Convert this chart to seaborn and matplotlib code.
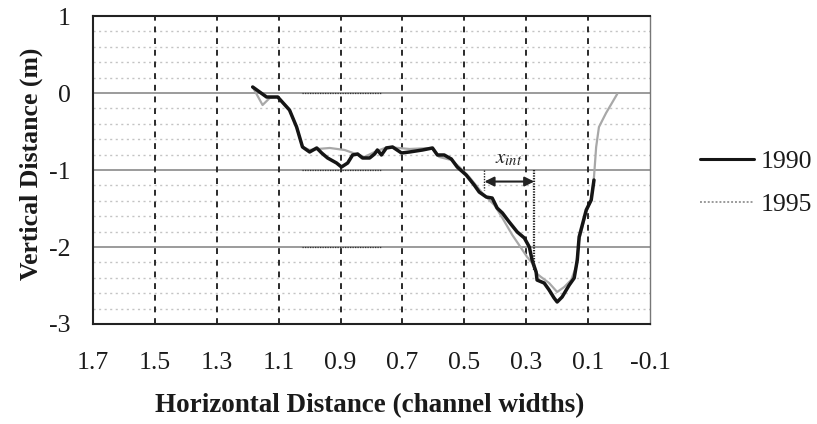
import matplotlib
matplotlib.use("Agg")
import matplotlib.pyplot as plt
from matplotlib.lines import Line2D
import seaborn as sns
import pandas as pd
import numpy as np

# ---- data ----
x_1990 = [1.184, 1.139, 1.103, 1.065, 1.042, 1.023, 1.000, 0.977, 0.961, 0.942,
          0.913, 0.897, 0.877, 0.861, 0.845, 0.829, 0.806, 0.790, 0.781, 0.768,
          0.752, 0.732, 0.703, 0.677, 0.635, 0.603, 0.587, 0.565, 0.542, 0.523,
          0.494, 0.468, 0.452, 0.429, 0.410, 0.394, 0.377, 0.355, 0.329, 0.306,
          0.290, 0.281, 0.268, 0.265, 0.242, 0.226, 0.210, 0.200, 0.184, 0.161,
          0.145, 0.135, 0.129, 0.106, 0.090, 0.081]
y_1990 = [0.078, -0.052, -0.052, -0.221, -0.442, -0.701, -0.766, -0.714, -0.779, -0.844,
          -0.909, -0.961, -0.909, -0.805, -0.792, -0.844, -0.844, -0.792, -0.740, -0.805,
          -0.714, -0.701, -0.779, -0.766, -0.740, -0.714, -0.805, -0.805, -0.857, -0.961,
          -1.065, -1.195, -1.286, -1.351, -1.364, -1.494, -1.558, -1.675, -1.805, -1.883,
          -2.000, -2.169, -2.325, -2.429, -2.468, -2.558, -2.662, -2.714, -2.649, -2.494,
          -2.403, -2.169, -1.870, -1.519, -1.390, -1.130]

x_1995 = [1.184, 1.152, 1.129, 1.103, 1.065, 1.042, 1.023, 1.000, 0.974, 0.935,
          0.887, 0.823, 0.790, 0.748, 0.677, 0.606, 0.581, 0.542, 0.516, 0.484,
          0.442, 0.403, 0.377, 0.345, 0.323, 0.297, 0.281, 0.268, 0.252, 0.226,
          0.200, 0.177, 0.155, 0.139, 0.129, 0.106, 0.090, 0.081, 0.074, 0.065,
          0.042, 0.006]
y_1995 = [0.078, -0.156, -0.065, -0.052, -0.221, -0.442, -0.701, -0.740, -0.727, -0.714,
          -0.740, -0.831, -0.766, -0.701, -0.727, -0.714, -0.831, -0.870, -0.961, -1.091,
          -1.299, -1.455, -1.623, -1.844, -1.974, -2.130, -2.208, -2.338, -2.390, -2.468,
          -2.584, -2.519, -2.429, -2.260, -1.909, -1.545, -1.390, -1.091, -0.701, -0.442,
          -0.260, -0.013]

years = ["1990", "1995"]
x_ticks = [1.7, 1.5, 1.3, 1.1, 0.9, 0.7, 0.5, 0.3, 0.1, -0.1]
x_tick_labels = ["1.7", "1.5", "1.3", "1.1", "0.9", "0.7", "0.5", "0.3", "0.1", "-0.1"]
y_ticks = [1, 0, -1, -2, -3]
y_tick_labels = ["1", "0", "-1", "-2", "-3"]

# x_int annotation (channel widths / m)
xint_left = 0.435
xint_right = 0.274
xint_arrow_y = -1.15
xint_top = -1.0
xint_left_bottom = -1.26
xint_right_bottom = -2.30
# dotted box segments seen in the original
box_x = [1.023, 0.768]
box_levels = [0, -1, -2]

df = pd.DataFrame({
    "x": x_1990 + x_1995,
    "y": y_1990 + y_1995,
    "year": [years[0]] * len(x_1990) + [years[1]] * len(x_1995),
})

sns.set_theme(style="white")
plt.rcParams["font.family"] = ["Liberation Serif", "DejaVu Serif"]
plt.rcParams["mathtext.fontset"] = "stix"

fig = plt.figure(figsize=(8.17, 4.24), dpi=100)
ax = fig.add_axes([93 / 817, 1 - 324 / 424, (650 - 93) / 817, (324 - 16) / 424])

# grid
for yv in np.arange(-3, 1.01, 0.2):
    if abs(yv - round(yv)) > 1e-6:
        ax.axhline(yv, color="#c4c4c4", lw=1.0, ls=(0, (1.5, 2.5)), zorder=0)
for yv in [0, -1, -2]:
    ax.axhline(yv, color="#8a8a8a", lw=1.2, zorder=0.5)
for xv in x_ticks[1:-1]:
    ax.axvline(xv, color="#2a2a2a", lw=1.4, ls=(0, (3, 3)), zorder=0.6)

for yv in box_levels:
    ax.plot(box_x, [yv, yv], color="#333333", lw=0.9, ls=(0, (1, 1)), zorder=0.7)

palette = {"1990": "#151515", "1995": "#a8a8a8"}
sizes = {"1990": 2.5, "1995": 1.6}
sns.lineplot(data=df[df.year == "1995"], x="x", y="y", sort=False, estimator=None,
             color=palette["1995"], lw=sizes["1995"], ax=ax, zorder=3, legend=False)
sns.lineplot(data=df[df.year == "1990"], x="x", y="y", sort=False, estimator=None,
             color=palette["1990"], lw=sizes["1990"], ax=ax, zorder=4, legend=False)

# x_int annotation
ax.plot([xint_left, xint_left], [xint_top, xint_left_bottom], color="#222222",
        lw=1.0, ls=(0, (1, 1)), zorder=5)
ax.plot([xint_right, xint_right], [xint_top, xint_right_bottom], color="#222222",
        lw=1.6, ls=(0, (0.6, 0.6)), zorder=5)
ax.annotate("", xy=(xint_left, xint_arrow_y), xytext=(xint_right, xint_arrow_y),
            arrowprops=dict(arrowstyle="<|-|>", color="#222222", lw=1.5,
                            mutation_scale=14, shrinkA=0, shrinkB=0), zorder=6)
ax.text((xint_left + xint_right) / 2 + 0.003, -0.98, r"$x_{\mathit{int}}$", fontsize=15,
        ha="center", va="bottom", color="#222222")

ax.set_xlim(1.7, -0.1)
ax.set_ylim(-3, 1)
ax.set_xticks(x_ticks)
ax.set_xticklabels(x_tick_labels)
ax.set_yticks(y_ticks)
ax.set_yticklabels(y_tick_labels)
ax.set_xticks(np.arange(-0.1, 1.71, 0.1), minor=True)
ax.set_yticks(np.arange(-3, 1.01, 0.2), minor=True)
ax.tick_params(axis="both", which="major", labelsize=18.5, direction="out", length=7,
               width=1.3, color="#222222", labelcolor="#1a1a1a")
ax.tick_params(axis="x", which="major", pad=13)
ax.tick_params(axis="y", which="major", pad=9)
ax.tick_params(axis="both", which="minor", direction="out", length=5, width=1.1,
               color="#333333")
ax.set_xlabel("")
ax.set_ylabel("")

for side in ["left", "bottom", "top"]:
    ax.spines[side].set_color("#222222")
    ax.spines[side].set_linewidth(1.5)
ax.spines["right"].set_color("#777777")
ax.spines["right"].set_linewidth(1.0)

fig.text(370 / 817, 1 - 406 / 424, "Horizontal Distance (channel widths)",
         fontsize=19.5, fontweight="bold", ha="center", va="center", color="#1a1a1a")
fig.text(31 / 817, 1 - 164 / 424, "Vertical Distance (m)", fontsize=18.5,
         fontweight="bold", ha="center", va="center", rotation=90, color="#1a1a1a")

handles = [Line2D([], [], color=palette["1990"], lw=2.2),
           Line2D([], [], color="#9a9a9a", lw=1.4, ls=(0, (1, 1)))]
fig.legend(handles, years, loc="center left", bbox_to_anchor=(700 / 817, 1 - 183 / 424),
           frameon=False, fontsize=18.5, handlelength=2.1, handletextpad=0.25,
           labelspacing=0.75, borderpad=0, borderaxespad=0, labelcolor="#1a1a1a")

fig.savefig("out.png", dpi=100)
